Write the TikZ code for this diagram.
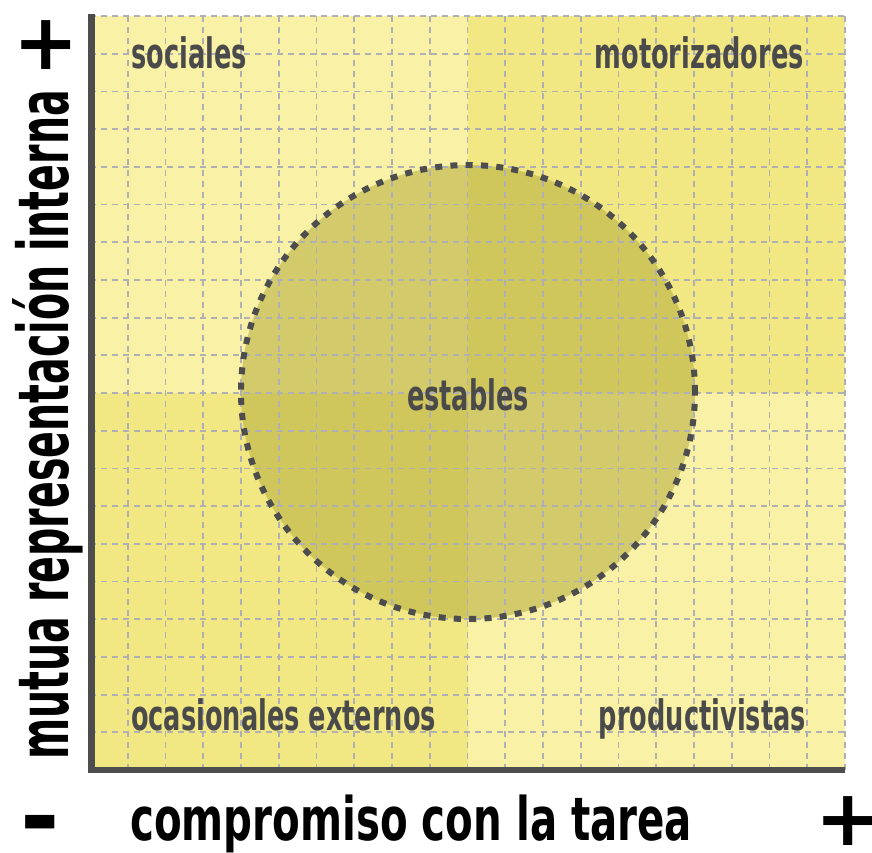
\documentclass[tikz,border=0pt]{standalone}
\usepackage{fontspec}
\newfontfamily\lblfont[FakeStretch=0.61]{DejaVu Sans Bold}
\newfontfamily\axfont[FakeStretch=0.672]{DejaVu Sans Bold}
\newfontfamily\ayfont[FakeStretch=0.565]{DejaVu Sans Bold}
\newfontfamily\signfont{DejaVu Sans Bold}
\definecolor{qlight}{HTML}{F9F2A6}
\definecolor{qdark}{HTML}{F1E884}
\definecolor{circfill}{HTML}{B5AC3C}
\definecolor{gridgray}{HTML}{AFAFB4}
\definecolor{axisgray}{HTML}{4D4D4D}
\definecolor{labelgray}{HTML}{4A4A4A}
\tikzset{
  quadlabel/.style={font=\lblfont\fontsize{42}{42}\selectfont, text=labelgray, inner sep=0pt},
  axislabel/.style={font=\axfont\fontsize{60}{60}\selectfont, text=black, inner sep=0pt, text depth=0pt},
  yaxislabel/.style={font=\ayfont\fontsize{70}{70}\selectfont, text=black, inner sep=0pt, text depth=0pt},
  signlabel/.style={font=\signfont\fontsize{78}{78}\selectfont, text=black, inner sep=0pt, text depth=0pt},
  gridline/.style={draw=gridgray, line width=1.8pt, dash pattern=on 6pt off 5pt},
  axisline/.style={draw=axisgray, line width=6.5pt},
  circleborder/.style={draw=axisgray, line width=6pt, dash pattern=on 7pt off 8.3pt},
}
\begin{document}
\begin{tikzpicture}[x=1pt,y=-1pt]
\useasboundingbox (0,0) rectangle (872,852);
% quadrants
\fill[qlight] (90,16) rectangle (467.5,393);
\fill[qdark] (467.5,16) rectangle (845,393);
\fill[qdark] (90,393) rectangle (467.5,770);
\fill[qlight] (467.5,393) rectangle (845,770);
% circle fill
\fill[circfill, fill opacity=0.55] (468,392) circle[radius=227];
% grid
\foreach \i in {0,...,20} {
  \draw[gridline] ({90+37.75*\i},16) -- ({90+37.75*\i},770);
  \draw[gridline] (90,{16+37.7*\i}) -- (845,{16+37.7*\i});
}
% circle border
\node[circle, minimum size=454pt, inner sep=0pt, circleborder] (circ) at (468,392) {};
% axes
\coordinate (origin) at (91.5,770);
\coordinate (ytop) at (91.5,14);
\coordinate (xend) at (845,770);
\draw[axisline] (ytop) -- (91.5,773.25) ;
\draw[axisline] (88.25,770) -- (xend);
% quadrant labels
\node[quadlabel, anchor=base west] (soc) at (131,68) {sociales};
\node[quadlabel, anchor=base east] (mot) at (804,68) {motorizadores};
\node[quadlabel, anchor=base] (est) at (468,410) {estables};
\node[quadlabel, anchor=base west] (oca) at (131,730) {ocasionales externos};
\node[quadlabel, anchor=base east] (pro) at (806,730) {productivistas};
% axis labels
\node[axislabel, anchor=base west] (xlab) at (130,840) {compromiso con la tarea};
\node[yaxislabel, anchor=base west, rotate=90] (ylab) at (68,760) {mutua representación interna};
% signs
\node[signlabel, anchor=base, text height=56pt] (yplus) at (46,69) {+};
\node[signlabel, anchor=base, text height=56pt] (xplus) at (848,845) {+};
\node[signlabel, anchor=base, text height=36pt, font=\signfont\fontsize{95}{95}\selectfont] (xminus) at (40,849) {-};
\end{tikzpicture}
\end{document}
